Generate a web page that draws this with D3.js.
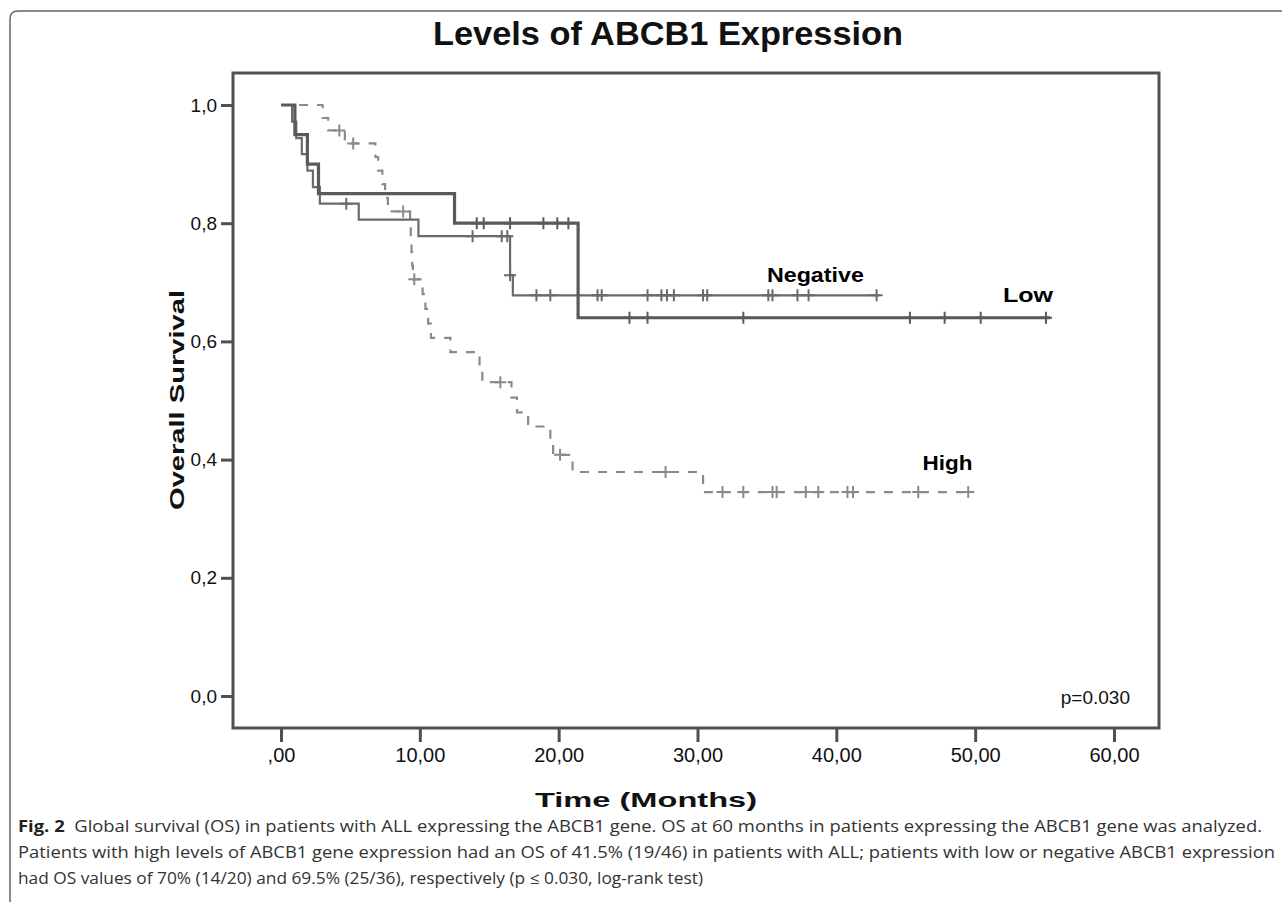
<!DOCTYPE html>
<html>
<head>
<meta charset="utf-8">
<script src="https://cdn.jsdelivr.net/npm/d3@7"></script>
<style>
body { margin: 0; background: #fff; }
svg { display: block; }
</style>
</head>
<body>
<svg id="chart"></svg>
<script>
// ---------------------------- data --------------------------------------------------------

const title = "Levels of ABCB1 Expression";
const xTicks = [0, 10, 20, 30, 40, 50, 60];
const yTicks = [0, 0.2, 0.4, 0.6, 0.8, 1.0];

// Low (solid, thick)
const lowTimes = [0, 1.0, 1.9, 2.7, 12.5, 21.4];
const lowSurv = [1.0, 0.95, 0.90, 0.85, 0.80, 0.64];
const lowEnd = 55.4;
const lowCensor = [14.1, 14.6, 16.5, 18.9, 19.9, 20.7, 25.1, 26.4, 33.3, 45.3, 47.8, 50.4, 55.1];

// Negative (solid, thin)
const negTimes = [0, 0.8, 1.1, 1.5, 1.9, 2.3, 2.8, 5.6, 9.9, 16.5, 16.7];
const negSurv = [1.0, 0.972, 0.944, 0.917, 0.889, 0.861, 0.833, 0.806, 0.778, 0.712, 0.678];
const negEnd = 43.1;
const negCensor = [4.7, 13.8, 15.9, 16.3, 16.5, 18.4, 19.4, 22.8, 23.1, 26.4, 27.4, 27.8, 28.3, 30.4, 30.7, 35.1, 35.4, 37.2, 38.0, 42.9];

// High (dashed)
const highTimes = [0, 3.0, 3.4, 4.6, 6.8, 7.0, 7.3, 7.5, 7.7, 9.3, 9.35, 9.4, 9.45, 9.5, 10.2, 10.4, 10.6, 10.8, 12.2, 14.3, 14.5, 16.6, 17.0, 17.8, 19.4, 19.6, 21.0, 30.4];
const highSurv = [1.0, 0.978, 0.957, 0.935, 0.912, 0.889, 0.866, 0.843, 0.820, 0.797, 0.774, 0.751, 0.728, 0.705, 0.680, 0.655, 0.630, 0.606, 0.582, 0.557, 0.531, 0.505, 0.480, 0.456, 0.432, 0.408, 0.379, 0.345];
const highEnd = 49.7;
const highCensor = [4.2, 5.2, 8.8, 9.6, 15.8, 20.1, 27.7, 31.8, 33.3, 35.4, 35.7, 37.8, 38.7, 40.8, 41.2, 45.9, 49.5];

// group labels: text, time, survival
const groupLabels = ["Negative", "Low", "High"];
const labelTimes = [35.0, 52.0, 46.2];
const labelSurv = [0.70, 0.667, 0.382];

const captionLines = [
  "Global survival (OS) in patients with ALL expressing the ABCB1 gene. OS at 60 months in patients expressing the ABCB1 gene was analyzed.",
  "Patients with high levels of ABCB1 gene expression had an OS of 41.5% (19/46) in patients with ALL; patients with low or negative ABCB1 expression",
  "had OS values of 70% (14/20) and 69.5% (25/36), respectively (p \u2264 0.030, log-rank test)"
];

// ---------------------------- chart -----------------------------------

const width = 1282;
const height = 902;
const svg = d3.select('#chart')
.attr('width', width)
.attr('height', height)
.style('font-family', 'Liberation Sans, Arial, sans-serif');

// outer figure frame (rounded corner)
svg.append('path')
.attr('d', 'M10,902 V19 Q10,11 18,11 H1282')
.attr('fill', 'none')
.attr('stroke', '#666')
.attr('stroke-width', 1.5);

const box = {left: 233, top: 73, right: 1159, bottom: 728};

const x = d3.scaleLinear().domain([0, 60]).range([281, 1114]);
const y = d3.scaleLinear().domain([0, 1]).range([696, 105]);

// title
svg.append('text')
.attr('x', 668)
.attr('y', 45)
.attr('text-anchor', 'middle')
.attr('font-size', 34)
.attr('font-weight', 'bold')
.attr('textLength', 470)
.attr('lengthAdjust', 'spacingAndGlyphs')
.attr('fill', '#111')
.text(title);

// plot frame
svg.append('rect')
.attr('x', box.left)
.attr('y', box.top)
.attr('width', box.right - box.left)
.attr('height', box.bottom - box.top)
.attr('fill', 'none')
.attr('stroke', '#505050')
.attr('stroke-width', 3);

// axes
const yAxis = d3.axisLeft(y)
.tickValues(yTicks)
.tickSize(12)
.tickPadding(4)
.tickFormat(d => d3.format('.1f')(d).replace('.', ','));

const gy = svg.append('g')
.attr('transform', `translate(${box.left},0)`)
.call(yAxis);

const xAxis = d3.axisBottom(x)
.tickValues(xTicks)
.tickSize(14)
.tickPadding(6)
.tickFormat(d => d === 0 ? ',00' : d3.format('.2f')(d).replace('.', ','));

const gx = svg.append('g')
.attr('transform', `translate(0,${box.bottom})`)
.call(xAxis);

[gx, gy].forEach(g => {
g.select('.domain').remove();
g.selectAll('.tick line').attr('stroke', '#505050').attr('stroke-width', 3);
g.selectAll('.tick text')
.attr('font-size', 20)
.attr('fill', '#111')
.attr('font-family', 'Liberation Sans, Arial, sans-serif');
});
gy.selectAll('.tick text').attr('font-size', 19);

// axis titles
svg.append('text')
.attr('transform', 'translate(184,400) rotate(-90)')
.attr('text-anchor', 'middle')
.attr('font-size', 21)
.attr('font-weight', 'bold')
.attr('textLength', 220)
.attr('lengthAdjust', 'spacingAndGlyphs')
.attr('fill', '#111')
.text('Overall Survival');

svg.append('text')
.attr('x', 646)
.attr('y', 807)
.attr('text-anchor', 'middle')
.attr('font-size', 21)
.attr('font-weight', 'bold')
.attr('textLength', 222)
.attr('lengthAdjust', 'spacingAndGlyphs')
.attr('fill', '#111')
.text('Time (Months)');

// survival curves
function stepPoints(times, surv, end) {
let pts = times.map((t, i) => [t, surv[i]]);
pts.push([end, surv[surv.length - 1]]);
return pts;
}

function survAt(times, surv, t) {
let s = surv[0];
for (let i = 0; i < times.length; i++) {
if (times[i] <= t) s = surv[i];
}
return s;
}

const line = d3.line()
.x(d => x(d[0]))
.y(d => y(d[1]))
.curve(d3.curveStepAfter);

const groups = [
{times: highTimes, surv: highSurv, end: highEnd, censor: highCensor, color: '#8a8a8a', w: 2.2, dash: '9,9'},
{times: negTimes, surv: negSurv, end: negEnd, censor: negCensor, color: '#6a6a6a', w: 2.2, dash: null},
{times: lowTimes, surv: lowSurv, end: lowEnd, censor: lowCensor, color: '#5a5a5a', w: 3.2, dash: null}
];

groups.forEach(g => {
svg.append('path')
.datum(stepPoints(g.times, g.surv, g.end))
.attr('d', line)
.attr('fill', 'none')
.attr('stroke', g.color)
.attr('stroke-width', g.w)
.attr('stroke-dasharray', g.dash);

svg.append('g')
.selectAll('path')
.data(g.censor)
.enter()
.append('path')
.attr('d', t => {
const cx = x(t), cy = y(survAt(g.times, g.surv, t));
return `M${cx - 6},${cy} H${cx + 6} M${cx},${cy - 6} V${cy + 6}`;
})
.attr('stroke', g.color)
.attr('stroke-width', 2);
});

// group labels
const labelWidths = [97, 50, 50];
groupLabels.forEach((lab, i) => {
svg.append('text')
.attr('x', x(labelTimes[i]))
.attr('y', y(labelSurv[i]))
.attr('font-size', 20)
.attr('font-weight', 'bold')
.attr('textLength', labelWidths[i])
.attr('lengthAdjust', 'spacingAndGlyphs')
.attr('fill', '#000')
.text(lab);
});

// p value
svg.append('text')
.attr('x', 1130)
.attr('y', 704)
.attr('text-anchor', 'end')
.attr('font-size', 19)
.attr('fill', '#111')
.text('p=0.030');

// caption
const capY = [832, 858, 884];
const capLen = [1244, 1257, 685];
captionLines.forEach((txt, i) => {
const t = svg.append('text')
.attr('x', 18)
.attr('y', capY[i])
.attr('font-family', 'Open Sans, Noto Sans, sans-serif')
.attr('font-size', 16)
.attr('fill', '#333')
.attr('textLength', capLen[i])
.attr('lengthAdjust', 'spacingAndGlyphs');
if (i === 0) {
t.append('tspan').attr('font-weight', 'bold').attr('fill', '#222').text('Fig. 2');
t.append('tspan').text('\u00a0\u00a0' + txt);
} else {
t.text(txt);
}
});
</script>
</body>
</html>
